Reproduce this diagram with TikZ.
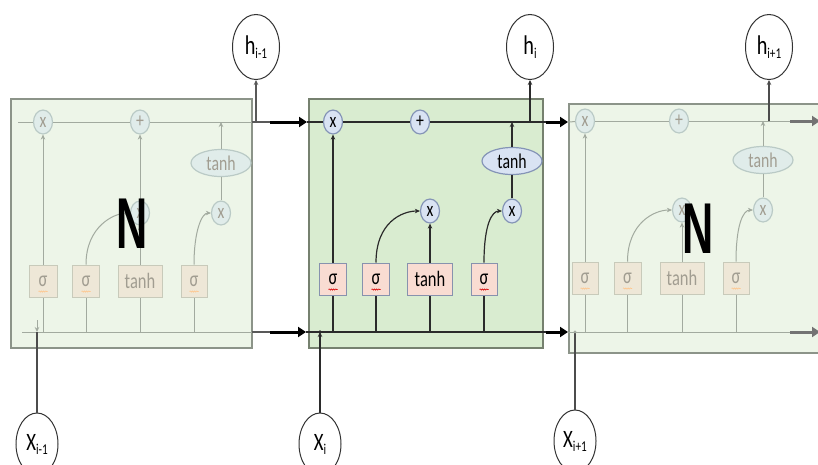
\documentclass[tikz,border=0pt]{standalone}
\usepackage{graphicx}
\usepackage{fontspec}
\setmainfont{Carlito}
\newfontfamily\nfont{Liberation Sans}
\usetikzlibrary{shapes.geometric,arrows.meta,decorations.pathmorphing}
\definecolor{fadefill}{HTML}{EDF5E8}
\definecolor{fadeborder}{HTML}{8C9489}
\definecolor{midfill}{HTML}{D9ECD0}
\definecolor{midborder}{HTML}{76816F}
\definecolor{circfill}{HTML}{D9E3F3}
\definecolor{circborder}{HTML}{8494B6}
\definecolor{sigfill}{HTML}{F9DCD2}
\definecolor{sigborder}{HTML}{8792AE}
\definecolor{fline}{HTML}{A2AA9F}
\definecolor{fcircfill}{HTML}{E0ECEA}
\definecolor{fcircborder}{HTML}{BACAC6}
\definecolor{fsigfill}{HTML}{EEE7D7}
\definecolor{fsigborder}{HTML}{C8CABA}
\definecolor{ftext}{HTML}{A19D91}
\definecolor{dline}{HTML}{2B2B2B}
\newcommand{\sq}[1]{\scalebox{0.75}[1]{#1}}
\newcommand{\iolab}[3]{\scalebox{0.75}[1]{\fontsize{#3}{#3}\selectfont #1\raisebox{-4pt}{\fontsize{15}{15}\selectfont #2}}}
\newcommand{\wavy}[2]{\draw[#2, decorate, decoration={snake,amplitude=0.6pt,segment length=2.2pt}, line width=0.6pt] ([xshift=-4.5pt,yshift=6pt]#1.south) -- ([xshift=4.5pt,yshift=6pt]#1.south);}
\begin{document}
\begin{tikzpicture}[x=1pt,y=-1pt,
  fcell/.style={rectangle, draw=fadeborder, fill=fadefill, line width=1.3pt, inner sep=0pt, minimum height=249pt},
  mcell/.style={rectangle, draw=midborder, fill=midfill, line width=1.3pt, inner sep=0pt, minimum height=249pt},
  op/.style={ellipse, draw=circborder, fill=circfill, line width=1.2pt, minimum width=19pt, minimum height=24pt, inner sep=0pt, font=\fontsize{21}{21}\selectfont},
  fop/.style={op, draw=fcircborder, fill=fcircfill, text=ftext},
  gate/.style={rectangle, draw=sigborder, fill=sigfill, line width=1pt, minimum height=32pt, inner sep=0pt, font=\fontsize{22}{22}\selectfont},
  fgate/.style={gate, draw=fsigborder, fill=fsigfill, text=ftext},
  tell/.style={ellipse, draw=circborder, fill=circfill, line width=1.2pt, minimum width=60pt, minimum height=27pt, inner sep=0pt, font=\fontsize{21}{21}\selectfont},
  ftell/.style={tell, draw=fcircborder, fill=fcircfill, text=ftext},
  io/.style={ellipse, draw=black!80, fill=white, line width=1pt, minimum width=47pt, minimum height=65pt, inner sep=0pt},
  fl/.style={draw=fline, line width=1pt},
  dl/.style={draw=dline, line width=1.2pt},
  gl/.style={draw=black!65, line width=1.2pt},
  tip/.style={-{Stealth[length=5pt,width=4.5pt]}},
  big/.style={draw=black, line width=3pt, -{Triangle[length=8pt,width=10pt]}}
]
\useasboundingbox (0,0) rectangle (818,464);
\clip (0,0) rectangle (818,464);
% ---------- cells ----------
\node[fcell, minimum width=241pt] (cellL) at (131.5,223.5) {};
\node[mcell, minimum width=234pt] (cellM) at (426,223.5) {};
\node[fcell, minimum width=262pt] (cellR) at (700,228.5) {};
% ---------- left cell nodes (faded) ----------
\node[fop] (xL) at (43,122) {\sq{x}};
\node[fop] (plusL) at (140,122) {\sq{+}};
\node[ftell] (tanhEL) at (221,163) {\sq{tanh}};
\node[fop] (xmL) at (140,213) {\sq{x}};
\node[fop] (xrL) at (221,213) {\sq{x}};
\node[fgate, minimum width=28pt] (s1L) at (43,281) {\sq{σ}};
\node[fgate, minimum width=27pt] (s2L) at (86,281) {\sq{σ}};
\node[fgate, minimum width=44pt] (tL) at (140,281) {\sq{tanh}};
\node[fgate, minimum width=26pt] (s4L) at (194,281) {\sq{σ}};
% ---------- middle cell nodes ----------
\node[op] (xM) at (333,122) {\sq{x}};
\node[op] (plusM) at (420,122) {\sq{+}};
\node[tell] (tanhEM) at (512,161) {\sq{tanh}};
\node[op] (xmM) at (430,211) {\sq{x}};
\node[op] (xrM) at (512,211) {\sq{x}};
\node[gate, minimum width=27pt] (s1M) at (333,279) {\sq{σ}};
\node[gate, minimum width=27pt] (s2M) at (376,279) {\sq{σ}};
\node[gate, minimum width=45pt] (tM) at (430,279) {\sq{tanh}};
\node[gate, minimum width=26pt] (s4M) at (484,279) {\sq{σ}};
% ---------- right cell nodes (faded) ----------
\node[fop] (xR) at (585,121) {\sq{x}};
\node[fop] (plusR) at (679,121) {\sq{+}};
\node[ftell] (tanhER) at (763,160) {\sq{tanh}};
\node[fop] (xmR) at (682,210) {\sq{x}};
\node[fop] (xrR) at (763,210) {\sq{x}};
\node[fgate, minimum width=26pt] (s1R) at (585,278) {\sq{σ}};
\node[fgate, minimum width=27pt] (s2R) at (627.5,278) {\sq{σ}};
\node[fgate, minimum width=44pt] (tR) at (682,278) {\sq{tanh}};
\node[fgate, minimum width=26pt] (s4R) at (736,278) {\sq{σ}};
% wavy underlines
\wavy{s1M}{red!85!black}
\wavy{s2M}{red!85!black}
\wavy{s4M}{red!85!black}
\wavy{s1L}{orange!45}
\wavy{s2L}{orange!45}
\wavy{s4L}{orange!45}
\wavy{s1R}{orange!45}
\wavy{s2R}{orange!45}
\wavy{s4R}{orange!45}
% ---------- inputs / outputs ----------
\node[io] (hL) at (256,47) {\iolab{h}{i-1}{27}};
\node[io] (hM) at (530,47) {\iolab{h}{i}{27}};
\node[io] (hR) at (769,47) {\iolab{h}{i+1}{27}};
\node[io, minimum width=42pt, minimum height=62pt] (XL) at (37,444) {\iolab{X}{i-1}{25}};
\node[io, minimum width=42pt, minimum height=62pt] (XM) at (320,444) {\iolab{X}{i}{25}};
\node[io, minimum width=42pt, minimum height=62pt] (XR) at (575,441) {\iolab{X}{i+1}{25}};
% ---------- coordinates ----------
\coordinate (tl0) at (18,122);
\coordinate (tanhjL) at (221,122);
\coordinate (tlE) at (252,122);
\coordinate (hjL) at (256,122);
\coordinate (ta1) at (270,122);
\coordinate (ta2) at (307,122);
\coordinate (bl0) at (22,332);
\coordinate (bxL) at (37,332);
\coordinate (b1L) at (43,332);
\coordinate (b2L) at (86,332);
\coordinate (b3L) at (140,332);
\coordinate (b4L) at (194,332);
\coordinate (blE) at (252,332);
\coordinate (ba1) at (270,332);
\coordinate (ba2) at (306,332);
\coordinate (tanhjM) at (512,122);
\coordinate (hjM) at (530,122);
\coordinate (tmE) at (546,122);
\coordinate (tm2) at (568,122);
\coordinate (bxM) at (320,332);
\coordinate (b1M) at (333,332);
\coordinate (b2M) at (376,332);
\coordinate (b3M) at (430,332);
\coordinate (b4M) at (484,332);
\coordinate (bmE) at (546,332);
\coordinate (bm2) at (568,332);
\coordinate (tanhjR) at (763,121);
\coordinate (hjR) at (769,121);
\coordinate (trE) at (790,121);
\coordinate (tr2) at (820,121);
\coordinate (bxR) at (575,332);
\coordinate (b1R) at (585,332);
\coordinate (b2R) at (627.5,332);
\coordinate (b3R) at (682,332);
\coordinate (b4R) at (736,332);
\coordinate (brE) at (790,332);
\coordinate (br2) at (820,332);
% ---------- left cell connectors ----------
\draw[fl] (tl0) -- (xL);
\draw[fl] (xL) -- (plusL);
\draw[fl] (plusL) -- (tlE);
\draw[gl] (tlE) -- (ta1);
\draw[big] (ta1) -- (ta2);
\draw[gl,tip] (hjL) -- (hL);
\draw[fl] (bl0) -- (blE);
\draw[gl] (blE) -- (ba1);
\draw[big] (ba1) -- (ba2);
\draw[fl] (b1L) -- (s1L);
\draw[fl,tip] (s1L) -- (xL);
\draw[fl] (b2L) -- (s2L);
\draw[fl,tip] (s2L.north) .. controls +(0,-38) and +(-16,0) .. (xmL.west);
\draw[fl] (b3L) -- (tL);
\draw[fl,tip] (tL) -- (xmL);
\draw[fl,tip] (xmL) -- (plusL);
\draw[fl] (b4L) -- (s4L);
\draw[fl,tip] (s4L.north) .. controls +(0,-34) and +(-9,0) .. (xrL.west);
\draw[fl] (xrL) -- (tanhEL);
\draw[fl,tip] (tanhEL) -- (tanhjL);
\draw[draw=black!70, line width=1.2pt] (XL) -- (bxL);
\draw[fl,tip] ([yshift=12pt]bxL) -- (bxL);
% ---------- middle cell connectors ----------
\draw[dl] (ta2) -- (xM);
\draw[dl] (xM) -- (plusM);
\draw[dl] (plusM) -- (tmE);
\draw[big] (tmE) -- (tm2);
\draw[dl,tip] (hjM) -- (hM);
\draw[dl,tip] (tanhEM) -- (tanhjM);
\draw[dl] (xrM) -- (tanhEM);
\draw[dl] (ba2) -- (bmE);
\draw[big] (bmE) -- (bm2);
\draw[dl,tip] (XM) -- (bxM);
\fill[dline] (bxM) circle (1.8pt);
\draw[dl] (b1M) -- (s1M);
\draw[dl,tip] (s1M) -- (xM);
\draw[dl] (b2M) -- (s2M);
\draw[dl,tip] (s2M.north) .. controls +(0,-40) and +(-18,0) .. (xmM.west);
\draw[dl] (b3M) -- (tM);
\draw[dl,tip] (tM) -- (xmM);
\draw[dl] (b4M) -- (s4M);
\draw[dl,tip] (s4M.north) .. controls +(0,-38) and +(-10,0) .. (xrM.west);
% ---------- right cell connectors ----------
\draw[fl] (tm2) -- (xR);
\draw[fl] (xR) -- (plusR);
\draw[fl] (plusR) -- (trE);
\draw[draw=black!55, line width=3pt, -{Triangle[length=8pt,width=10pt]}] (trE) -- (tr2);
\draw[draw=black!70, line width=1.2pt, tip] (hjR) -- (hR);
\draw[fl,tip] (tanhER) -- (tanhjR);
\draw[fl] (xrR) -- (tanhER);
\draw[fl] (bm2) -- (brE);
\draw[draw=black!55, line width=3pt, -{Triangle[length=8pt,width=10pt]}] (brE) -- (br2);
\draw[draw=black!70, line width=1.2pt] (XR) -- (bxR);
\fill[fline] (bxR) circle (1.6pt);
\draw[fl] (b1R) -- (s1R);
\draw[fl,tip] (s1R) -- (xR);
\draw[fl] (b2R) -- (s2R);
\draw[fl,tip] (s2R.north) .. controls +(0,-38) and +(-18,0) .. (xmR.west);
\draw[fl] (b3R) -- (tR);
\draw[fl,tip] (tR) -- (xmR);
\draw[fl] (b4R) -- (s4R);
\draw[fl,tip] (s4R.north) .. controls +(0,-36) and +(-10,0) .. (xrR.west);
% ---------- overlay letters ----------
\node[font=\nfont\bfseries\fontsize{72}{72}\selectfont, inner sep=0pt, xscale=0.6] (NL) at (132,224) {N};
\node[font=\nfont\bfseries\fontsize{72}{72}\selectfont, inner sep=0pt, xscale=0.6] (NR) at (698,229) {N};
\end{tikzpicture}
\end{document}
